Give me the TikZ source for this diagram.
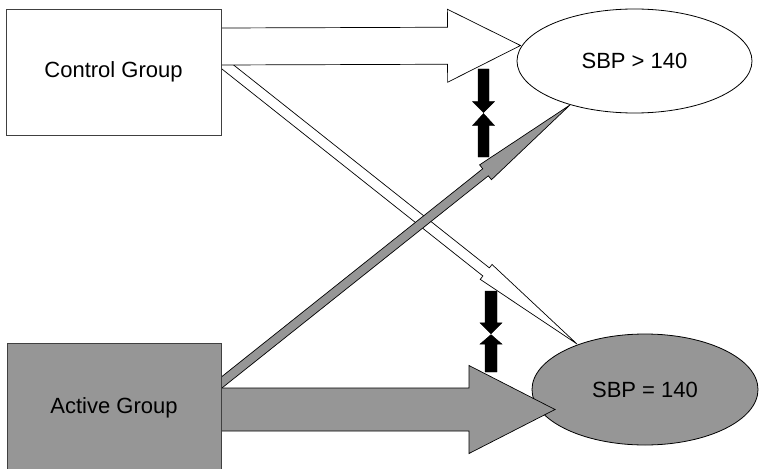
\documentclass[tikz,border=0pt]{standalone}
\usepackage{fontspec}
\setmainfont{Liberation Sans}
\usetikzlibrary{calc,shapes.geometric}

\definecolor{fillgray}{RGB}{150,150,150}
\definecolor{edgegray}{RGB}{64,64,64}

\pgfdeclarelayer{back}
\pgfdeclarelayer{mid}
\pgfsetlayers{back,mid,main}

% Block arrow from #2 to #3: style #1, shaft half-width #4,
% head half-width #5, head length #6
\newcommand\blockarrow[6]{%
  \coordinate (ba-h) at ($(#3)!#6!(#2)$);
  \draw[#1]
    ($(#2)!#4!90:(#3)$) -- ($(ba-h)!#4!-90:(#2)$) -- ($(ba-h)!#5!-90:(#2)$)
    -- (#3)
    -- ($(ba-h)!#5!90:(#2)$) -- ($(ba-h)!#4!90:(#2)$) -- ($(#2)!#4!-90:(#3)$)
    -- cycle;}

\tikzset{
  label font/.style={font=\fontsize{22}{26}\selectfont},
  groupbox/.style={rectangle, draw=edgegray, line width=1pt, inner sep=0pt,
    outer sep=0pt, label font},
  outcome/.style={ellipse, draw=black, line width=0.8pt, inner sep=0pt,
    outer sep=0pt, label font},
  openarrow/.style={draw=black, fill=white, line width=0.7pt, line join=miter},
  shadedarrow/.style={draw=black, fill=fillgray, line width=0.7pt, line join=miter},
  solidarrow/.style={draw=black, fill=black, line width=0.4pt, line join=miter},
}

\begin{document}
\begin{tikzpicture}[x=1pt, y=-1pt]
\useasboundingbox (0,0) rectangle (759,468);

% Outcomes
\begin{pgfonlayer}{back}
  \node[outcome, fill=white, minimum width=235pt, minimum height=104pt]
    (high) at (634.5,61) {SBP > 140};
  \node[outcome, fill=fillgray, minimum width=226pt, minimum height=111pt]
    (norm) at (645,389.5) {SBP = 140};
\end{pgfonlayer}

% Groups
\node[groupbox, fill=white, minimum width=215pt, minimum height=125.5pt]
  (ctrl) at (113.5,72.25) {Control Group};
\node[groupbox, fill=fillgray, minimum width=214pt, minimum height=130pt]
  (act) at (114,408) {Active Group};

% Connector end points
\coordinate (c-top) at ($(ctrl.east)+(0,-25.75)$);
\coordinate (c-diag) at ($(ctrl.east)+(-4,-13.8)$);
\coordinate (a-low) at ($(act.east)+(0,1.5)$);
\coordinate (a-diag) at ($(act.east)+(-3.9,-21.9)$);
\coordinate (h-in) at ($(high.center)+(-114,-15.5)$);
\coordinate (h-low) at ($(high.center)+(-64.5,44)$);
\coordinate (n-in) at ($(norm.center)+(-90,20)$);
\coordinate (n-top) at ($(norm.center)+(-68,-45.5)$);

% Paired opposing arrows
\coordinate (u-top) at (483.5,69);
\coordinate (u-mid1) at (483.5,112.5);
\coordinate (u-mid2) at (483.5,113.5);
\coordinate (u-bot) at (483.5,157);
\coordinate (l-top) at (491,291);
\coordinate (l-mid1) at (491,333.8);
\coordinate (l-mid2) at (491,334.6);
\coordinate (l-bot) at (491,372);

\begin{pgfonlayer}{mid}
  \blockarrow{openarrow}{c-diag}{n-top}{5.2pt}{9.5pt}{116pt}
  \blockarrow{shadedarrow}{a-diag}{h-low}{4.5pt}{9.5pt}{108pt}
  \blockarrow{openarrow}{c-top}{h-in}{18.5pt}{36.5pt}{73pt}
  \blockarrow{shadedarrow}{a-low}{n-in}{21.5pt}{44pt}{86pt}
  \blockarrow{solidarrow}{u-top}{u-mid1}{5.5pt}{11pt}{11pt}
  \blockarrow{solidarrow}{u-bot}{u-mid2}{5.5pt}{11pt}{12pt}
  \blockarrow{solidarrow}{l-top}{l-mid1}{6pt}{11pt}{11pt}
  \blockarrow{solidarrow}{l-bot}{l-mid2}{6pt}{11pt}{9.5pt}
\end{pgfonlayer}
\end{tikzpicture}
\end{document}
